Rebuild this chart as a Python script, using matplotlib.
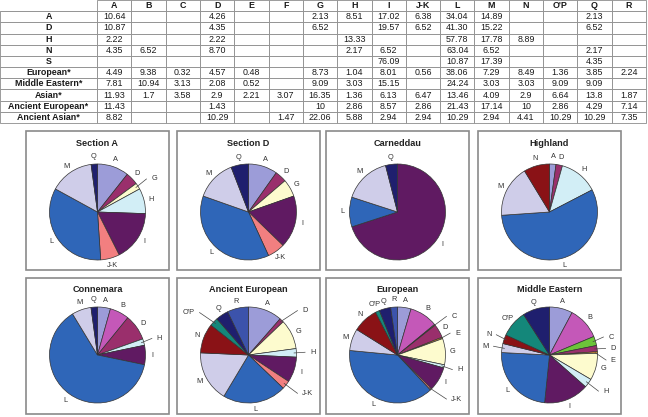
import matplotlib
matplotlib.use("Agg")
import numpy as np
import matplotlib.pyplot as plt
from matplotlib.patches import Rectangle

plt.rcParams['font.family'] = ['Liberation Sans', 'DejaVu Sans']

# haplogroup columns
cats = ['A', 'B', 'C', 'D', 'E', 'F', 'G', 'H', 'I', 'J-K', 'L', 'M', 'N', "O'P", 'Q', 'R']

# table rows (percentages, '' = not present)
row_A = ['10.64', '', '', '4.26', '', '', '2.13', '8.51', '17.02', '6.38', '34.04', '14.89', '', '', '2.13', '']
row_D = ['10.87', '', '', '4.35', '', '', '6.52', '', '19.57', '6.52', '41.30', '15.22', '', '', '6.52', '']
row_H = ['2.22', '', '', '2.22', '', '', '', '13.33', '', '', '57.78', '17.78', '8.89', '', '', '']
row_N = ['4.35', '6.52', '', '8.70', '', '', '', '2.17', '6.52', '', '63.04', '6.52', '', '', '2.17', '']
row_S = ['', '', '', '', '', '', '', '', '76.09', '', '10.87', '17.39', '', '', '4.35', '']
row_eur = ['4.49', '9.38', '0.32', '4.57', '0.48', '', '8.73', '1.04', '8.01', '0.56', '38.06', '7.29', '8.49', '1.36', '3.85', '2.24']
row_me = ['7.81', '10.94', '3.13', '2.08', '0.52', '', '9.09', '3.03', '15.15', '', '24.24', '3.03', '3.03', '9.09', '9.09', '']
row_asian = ['11.93', '1.7', '3.58', '2.9', '2.21', '3.07', '16.35', '1.36', '6.13', '6.47', '13.46', '4.09', '2.9', '6.64', '13.8', '1.87']
row_anc_eur = ['11.43', '', '', '1.43', '', '', '10', '2.86', '8.57', '2.86', '21.43', '17.14', '10', '2.86', '4.29', '7.14']
row_anc_asian = ['8.82', '', '', '10.29', '', '1.47', '22.06', '5.88', '2.94', '2.94', '10.29', '2.94', '4.41', '10.29', '10.29', '7.35']

row_names = ['A', 'D', 'H', 'N', 'S', 'European*', 'Middle Eastern*', 'Asian*',
             'Ancient European*', 'Ancient Asian*']
table_rows = [row_A, row_D, row_H, row_N, row_S, row_eur, row_me, row_asian,
              row_anc_eur, row_anc_asian]

# pie panels: title -> table row
pie_titles = ['Section A', 'Section D', 'Carneddau', 'Highland',
              'Connemara', 'Ancient European', 'European', 'Middle Eastern']
pie_rows = [row_A, row_D, row_S, row_H, row_N, row_anc_eur, row_eur, row_me]

cat_colors = {
    'A': '#9c9cd8', 'B': '#c458b8', 'C': '#6cc43a', 'D': '#9a2f6c',
    'E': '#e8962e', 'F': '#99ccff', 'G': '#fdfbce', 'H': '#d2eef6',
    'I': '#601a62', 'J-K': '#f27f80', 'L': '#2f66b8', 'M': '#cfcde9',
    'N': '#8a1216', "O'P": '#14877a', 'Q': '#1f1f6e', 'R': '#3c53ab',
}

W, H = 648, 417
fig = plt.figure(figsize=(W / 100, H / 100), dpi=100)

# ---------------- table ----------------
tab_h = 123
tax = fig.add_axes([0, 1 - tab_h / H, 646 / W, tab_h / H])
tax.axis('off')
cells = [[''] + cats] + [[n] + r for n, r in zip(row_names, table_rows)]
col_w = [97] + [549 / len(cats)] * len(cats)
tbl = tax.table(cellText=cells, colWidths=[c / sum(col_w) for c in col_w],
                bbox=[0, 0, 1, 1], cellLoc='center')
tbl.auto_set_font_size(False)
tbl.set_fontsize(6.4)
for (r, c), cell in tbl.get_celld().items():
    cell.set_edgecolor('#8c8c8c')
    cell.set_linewidth(0.6)
    cell.get_text().set_color('#1a1a1a')
    if r == 0 or c == 0:
        cell.get_text().set_fontweight('bold')
    if r == 0 and c == 0:
        cell.visible_edges = 'B'

# ---------------- pies ----------------
panel_x = [26, 177, 326, 478]
panel_w = 143
panel_top = [131, 278]
panel_h = [139, 136]
pie_dy = [81, 77]
R = 48  # pie radius in px

for k, (title, row) in enumerate(zip(pie_titles, pie_rows)):
    pr, pc = divmod(k, 4)
    x0, y0 = panel_x[pc], panel_top[pr]
    fig.add_artist(Rectangle((x0 / W, 1 - (y0 + panel_h[pr]) / H),
                             panel_w / W, panel_h[pr] / H,
                             transform=fig.transFigure, fill=False,
                             edgecolor='#8a8a8a', lw=1.2))
    fig.text((x0 + panel_w / 2) / W, 1 - (y0 + 12) / H, title,
             ha='center', va='center', fontsize=6.6, fontweight='bold',
             color='#222222')

    cx, cy = x0 + panel_w / 2, y0 + pie_dy[pr]
    aw, ah = 136, 112
    ax = fig.add_axes([(cx - aw / 2) / W, 1 - (cy + ah / 2) / H, aw / W, ah / H])
    ax.axis('off')

    labs = [c for c, v in zip(cats, row) if v != '']
    vals = np.array([float(v) for v in row if v != ''])
    wedges, _ = ax.pie(vals, colors=[cat_colors[c] for c in labs],
                       startangle=90, counterclock=False, radius=1,
                       wedgeprops=dict(edgecolor='#333333', linewidth=0.5))
    ax.set_xlim(-aw / 2 / R, aw / 2 / R)
    ax.set_ylim(-ah / 2 / R, ah / 2 / R)
    ax.set_aspect('auto')
    share = vals / vals.sum() * 100

    leaders = {1: [], -1: []}
    for w, lab, s in zip(wedges, labs, share):
        ang = np.deg2rad((w.theta1 + w.theta2) / 2)
        ux, uy = np.cos(ang), np.sin(ang)
        # small slices on the sides get a short leader line
        if s < 3.5 and abs(uy) < 0.8:
            leaders[1 if ux > 0 else -1].append([ux, uy, lab])
        else:
            ax.text(1.15 * ux, 1.15 * uy, lab, ha='center', va='center',
                    fontsize=5.3, color='#333333')

    for side, items in leaders.items():
        items.sort(key=lambda t: -t[1])
        prev_y = None
        for ux, uy, lab in items:
            ty = 1.28 * uy
            if prev_y is not None and ty > prev_y - 0.24:
                ty = prev_y - 0.24
            prev_y = ty
            tx = side * max(abs(1.28 * ux), 1.12)
            ax.plot([0.95 * ux, tx - side * 0.1], [0.95 * uy, ty],
                    color='#444444', lw=0.5)
            ax.text(tx, ty, lab, ha='left' if side > 0 else 'right',
                    va='center', fontsize=5.3, color='#333333')

fig.savefig('out.png', dpi=100)
